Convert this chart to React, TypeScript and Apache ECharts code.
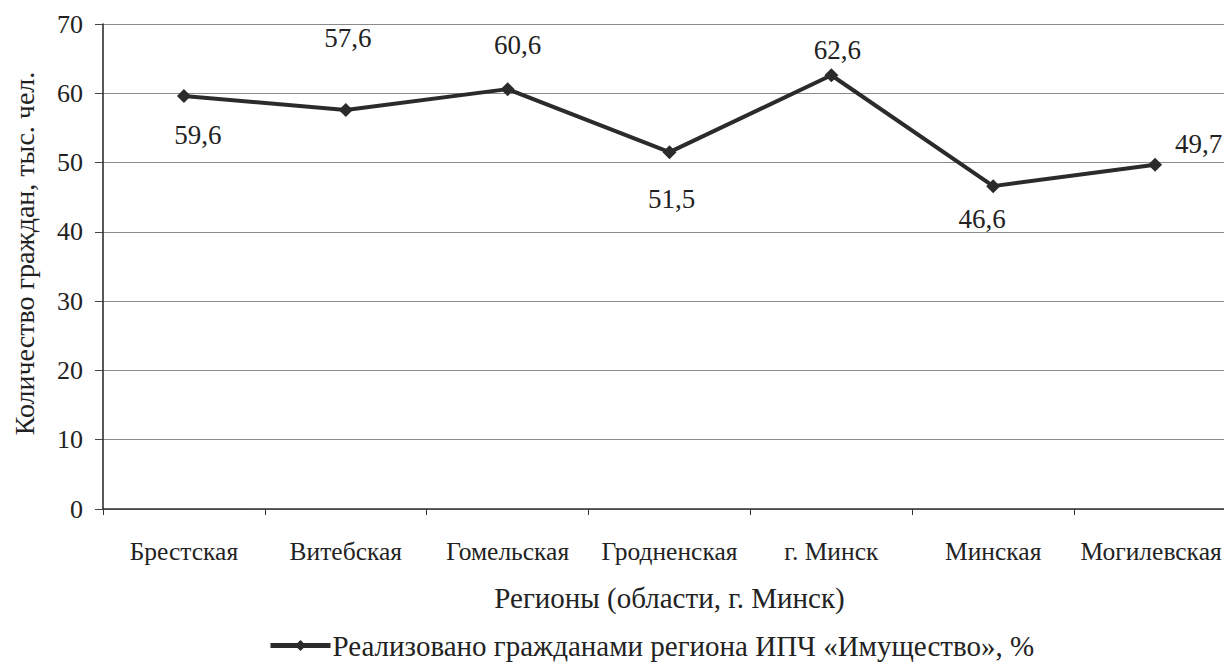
import React, { useEffect, useRef } from "react";
import * as echarts from "echarts";

const categories = ["Брестская", "Витебская", "Гомельская", "Гродненская", "г. Минск", "Минская", "Могилевская"];
const values = [59.6, 57.6, 60.6, 51.5, 62.6, 46.6, 49.7];
const valueLabels = ["59,6", "57,6", "60,6", "51,5", "62,6", "46,6", "49,7"];
const seriesName = "Реализовано гражданами региона ИПЧ «Имущество», %";
const yAxisName = "Количество граждан, тыс. чел.";
const xAxisName = "Регионы (области, г. Минск)";

// label placement (style only)
const labelPos = ["bottom", "top", "top", "bottom", "top", "bottom", "right"];
const labelOffset: [number, number][] = [[14, 13], [2, -46], [10, -19], [2, 21], [6, 0], [-11, 7], [8, -21]];

const FONT = "Liberation Serif";

export default function App() {
  const ref = useRef<HTMLDivElement>(null);
  useEffect(() => {
    document.body.style.margin = "0";
    document.body.style.overflow = "hidden";
    const chart = echarts.init(ref.current!, null, { renderer: "svg" });
    const lastIdx = categories.length - 1;
    chart.setOption({
      animation: false,
      backgroundColor: "#ffffff",
      textStyle: { fontFamily: FONT, color: "#222" },
      grid: { left: 103, right: -12, top: 24, bottom: 155, containLabel: false, outerBoundsMode: "none" },
      legend: {
        show: true,
        left: 268,
        top: 631,
        padding: 0,
        itemWidth: 60,
        itemHeight: 14,
        itemGap: 4,
        lineStyle: { width: 5, color: "#2b2b2b" },
        textStyle: { fontFamily: FONT, fontSize: 29, color: "#222", padding: [0, 0, 0, -3] },
        data: [seriesName],
      },
      xAxis: {
        type: "category",
        data: categories.map((c, i) =>
          i === lastIdx ? { value: c, textStyle: { padding: [0, 8, 0, 0] } } : c
        ),
        boundaryGap: true,
        name: xAxisName,
        nameLocation: "middle",
        nameGap: 74,
        nameTextStyle: { fontFamily: FONT, fontSize: 29, color: "#222" },
        axisLine: { lineStyle: { color: "#333", width: 1.5 } },
        axisTick: { show: true, length: 6, lineStyle: { color: "#333" } },
        axisLabel: { fontFamily: FONT, fontSize: 25.5, color: "#222", margin: 29, interval: 0 },
        splitLine: { show: false },
      },
      yAxis: {
        type: "value",
        min: 0,
        max: 70,
        interval: 10,
        name: yAxisName,
        nameLocation: "middle",
        nameGap: 65,
        nameRotate: 90,
        nameTextStyle: { fontFamily: FONT, fontSize: 28, color: "#222", padding: [0, 0, 0, 26] },
        axisLine: { show: true, lineStyle: { color: "#222", width: 1.5 } },
        axisTick: { show: true, length: 8, lineStyle: { color: "#444" } },
        axisLabel: { fontFamily: FONT, fontSize: 26, color: "#222", margin: 20 },
        splitLine: { show: true, lineStyle: { color: "#8a8a8a", width: 1 } },
      },
      series: [
        {
          name: seriesName,
          type: "line",
          data: values.map((v, i) => ({
            value: v,
            label: {
              show: true,
              position: labelPos[i],
              offset: labelOffset[i],
              formatter: () => valueLabels[i],
            },
          })),
          symbol: "diamond",
          symbolSize: 14,
          lineStyle: { color: "#2b2b2b", width: 4 },
          itemStyle: { color: "#2b2b2b" },
          label: { fontFamily: FONT, fontSize: 27, color: "#222", distance: 5 },
        },
      ],
    });
    return () => chart.dispose();
  }, []);
  return <div ref={ref} style={{ width: 1224, height: 664 }} />;
}
